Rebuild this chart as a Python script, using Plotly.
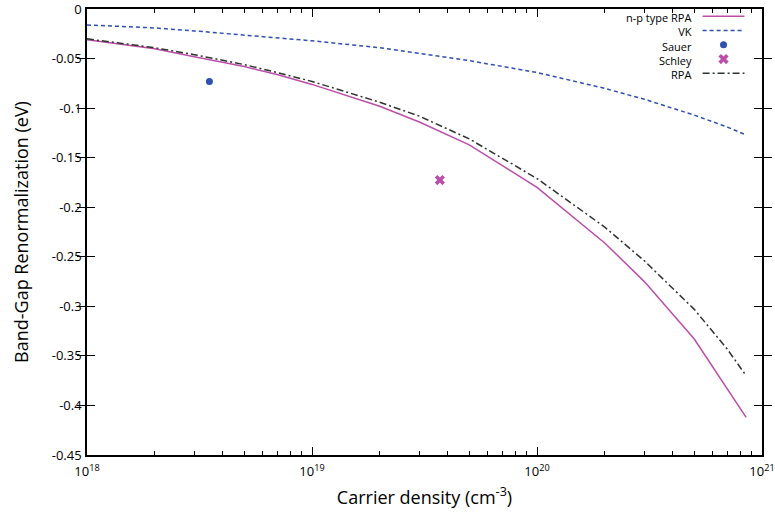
import plotly.graph_objects as go

# Carrier density grid (cm^-3) used for the model curves
density = [1e18, 2e18, 3e18, 5e18, 7e18, 1e19, 2e19, 3e19, 5e19,
           1e20, 2e20, 3e20, 5e20, 7e20, 8.5e20]

# Band-gap renormalization (eV)
np_rpa = [-0.031, -0.040, -0.048, -0.058, -0.066, -0.076, -0.098, -0.114, -0.137,
          -0.180, -0.236, -0.275, -0.333, -0.383, -0.412]
vk = [-0.016, -0.019, -0.022, -0.026, -0.029, -0.032, -0.039, -0.045, -0.052,
      -0.064, -0.080, -0.091, -0.107, -0.119, -0.127]
rpa = [-0.030, -0.039, -0.046, -0.056, -0.064, -0.073, -0.094, -0.108, -0.131,
       -0.171, -0.220, -0.254, -0.303, -0.343, -0.370]

# Experimental points
sauer_n, sauer_bgr = [3.5e18], [-0.073]
schley_n, schley_bgr = [3.7e19], [-0.1725]

x_tickvals = [1e18, 1e19, 1e20, 1e21]
x_ticktext = ["10<sup>18</sup>", "10<sup>19</sup>", "10<sup>20</sup>", "10<sup>21</sup>"]
x_minorvals = [m * 10.0 ** e for e in (18, 19, 20) for m in range(2, 10)]
y_tickvals = [0, -0.05, -0.1, -0.15, -0.2, -0.25, -0.3, -0.35, -0.4, -0.45]
y_ticktext = ["0", "-0.05", "-0.1", "-0.15", "-0.2", "-0.25", "-0.3", "-0.35", "-0.4", "-0.45"]

MAGENTA = "#bb4ea8"
BLUE = "#2f4fb1"
DARK = "#2e352e"
FONT = "Open Sans"

fig = go.Figure()
fig.add_trace(go.Scatter(x=density, y=np_rpa, mode="lines", name="n-p type RPA",
                         line=dict(color=MAGENTA, width=1.5)))
fig.add_trace(go.Scatter(x=density, y=vk, mode="lines", name="VK",
                         line=dict(color=BLUE, width=1.5, dash="4px,3px")))
fig.add_trace(go.Scatter(x=sauer_n, y=sauer_bgr, mode="markers", name="Sauer",
                         marker=dict(color=BLUE, size=7, symbol="circle")))
fig.add_trace(go.Scatter(x=schley_n, y=schley_bgr, mode="markers", name="Schley",
                         marker=dict(color=MAGENTA, size=9, symbol="x")))
fig.add_trace(go.Scatter(x=density, y=rpa, mode="lines", name="RPA",
                         line=dict(color=DARK, width=1.5, dash="7px,3px,2px,3px")))

# Carrier of the minor-tick axis (draws nothing)
fig.add_trace(go.Scatter(x=[1e18], y=[None], mode="lines", xaxis="x3",
                         showlegend=False, hoverinfo="skip"))

# Key in the upper right: one right-aligned block of labels, samples beside each row
key = [
    ("n-p type RPA", "line", MAGENTA, "solid"),
    ("VK", "line", BLUE, "4px,3px"),
    ("Sauer", "circle", BLUE, None),
    ("Schley", "x", MAGENTA, None),
    ("RPA", "line", DARK, "7px,3px,2px,3px"),
]
KEY_FONT = 11
PLOT_H = 518 - 9 - 63
row_step = KEY_FONT * 1.3 / PLOT_H
key_top = 0.984
fig.add_annotation(x=0.898, y=key_top + row_step / 2, xref="paper", yref="paper",
                   text="<br>".join(k[0] for k in key), align="right",
                   showarrow=False, xanchor="right", yanchor="top", borderpad=0,
                   font=dict(family=FONT, size=KEY_FONT, color="black"))
for i, (label, kind, color, dash) in enumerate(key):
    yk = key_top - i * row_step
    if kind == "line":
        fig.add_trace(go.Scatter(x=[0.912, 0.974], y=[yk, yk], mode="lines",
                                 xaxis="x2", yaxis="y2", showlegend=False,
                                 hoverinfo="skip",
                                 line=dict(color=color, width=1.5, dash=dash)))
    else:
        fig.add_trace(go.Scatter(x=[0.943], y=[yk], mode="markers",
                                 xaxis="x2", yaxis="y2", showlegend=False,
                                 hoverinfo="skip",
                                 marker=dict(color=color, size=7 if kind == "circle" else 9,
                                             symbol=kind)))

axis_common = dict(showline=True, linecolor="black", linewidth=1.5, mirror="allticks",
                   ticks="inside", tickcolor="black", showgrid=False, zeroline=False,
                   automargin=False, ticklabeloverflow="allow",
                   tickfont=dict(family=FONT, size=13, color="black"))

X_RANGE = [17.99999, 21.00001]

fig.update_layout(
    width=775, height=518,
    margin=dict(l=87, r=13, t=9, b=63),
    paper_bgcolor="white", plot_bgcolor="white",
    showlegend=False,
    font=dict(family=FONT, color="black"),
    xaxis=dict(type="log", range=X_RANGE, tickvals=x_tickvals,
               ticktext=x_ticktext, ticklen=8, tickwidth=1, ticklabelstandoff=4,
               title=dict(text="Carrier density (cm<sup>-3</sup>)",
                          font=dict(family=FONT, size=18), standoff=12),
               **axis_common),
    yaxis=dict(range=[-0.45, 0.0001], tickvals=y_tickvals, ticktext=y_ticktext,
               ticklen=8, tickwidth=1, ticklabelstandoff=1,
               title=dict(text="Band-Gap Renormalization (eV)",
                          font=dict(family=FONT, size=18), standoff=18),
               **axis_common),
    xaxis2=dict(domain=[0, 1], range=[0, 1], overlaying="x", visible=False,
                anchor="y2"),
    yaxis2=dict(domain=[0, 1], range=[0, 1], overlaying="y", visible=False,
                anchor="x2"),
    # minor log ticks (2..9 in each decade), bottom and top
    xaxis3=dict(type="log", range=X_RANGE, overlaying="x", anchor="y",
                tickvals=x_minorvals, showticklabels=False, ticks="inside",
                ticklen=4, tickwidth=1, tickcolor="black", showline=True,
                linecolor="black", linewidth=1.5, mirror="allticks",
                showgrid=False, zeroline=False, automargin=False),
)

fig.write_html("out.html")
